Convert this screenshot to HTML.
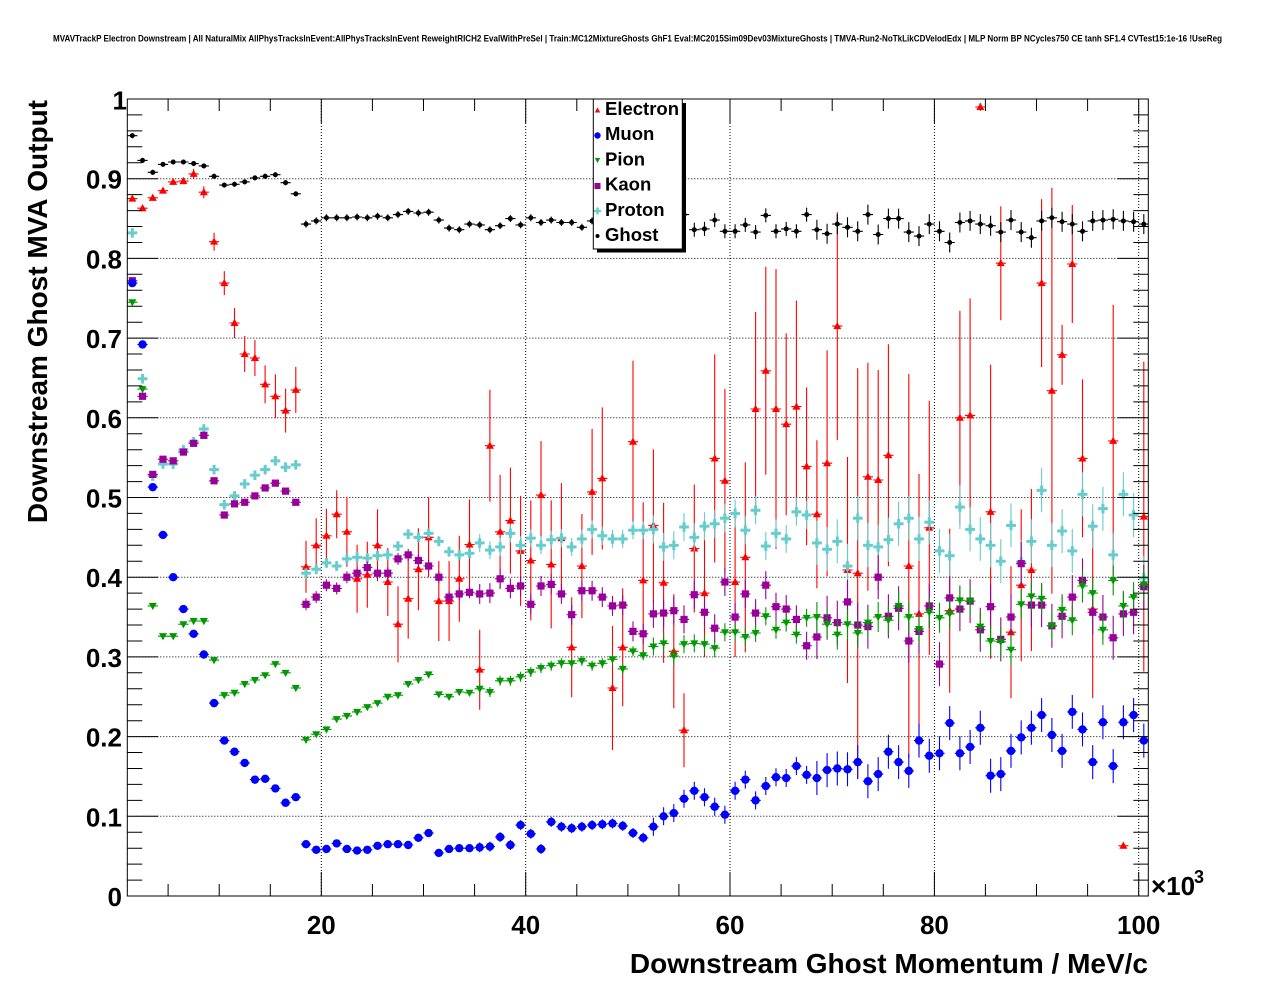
<!DOCTYPE html>
<html><head><meta charset="utf-8"><style>
html,body{margin:0;padding:0;background:#fff;}
svg{display:block;}
text{font-family:"Liberation Sans",Arial,sans-serif;font-weight:bold;fill:#000;}
</style></head><body>
<svg id="s" width="1276" height="996" viewBox="0 0 1276 996" xmlns="http://www.w3.org/2000/svg">
<defs><clipPath id="fr"><rect x="127.3" y="99" width="1021" height="797"/></clipPath></defs>
<rect width="1276" height="996" fill="#fff"/>
<text x="53" y="41.3" font-size="9.2" textLength="1169" lengthAdjust="spacingAndGlyphs">MVAVTrackP Electron Downstream | All NaturalMix AllPhysTracksInEvent:AllPhysTracksInEvent ReweightRICH2 EvalWithPreSel | Train:MC12MixtureGhosts GhF1 Eval:MC2015Sim09Dev03MixtureGhosts | TMVA-Run2-NoTkLikCDVelodEdx | MLP Norm BP NCycles750 CE tanh SF1.4 CVTest15:1e-16 !UseReg</text>
<g id="grid" stroke="#000" stroke-width="1" stroke-dasharray="1 2" fill="none"></g>
<g id="data" clip-path="url(#fr)"></g>
<rect x="127.3" y="99" width="1021" height="797" fill="none" stroke="#000" stroke-width="1"/>
<g id="ticks" stroke="#000" stroke-width="1" fill="none"></g>
<g font-size="26" text-anchor="end">
<text x="127" y="109.5">1</text>
<text x="122" y="188.7">0.9</text>
<text x="122" y="268.4">0.8</text>
<text x="122" y="348.1">0.7</text>
<text x="122" y="427.8">0.6</text>
<text x="122" y="507.5">0.5</text>
<text x="122" y="587.2">0.4</text>
<text x="122" y="666.9">0.3</text>
<text x="122" y="746.6">0.2</text>
<text x="122" y="826.3">0.1</text>
<text x="122" y="906">0</text>
</g>
<g font-size="26" text-anchor="middle">
<text x="321.3" y="934">20</text>
<text x="525.7" y="934">40</text>
<text x="730" y="934">60</text>
<text x="934.4" y="934">80</text>
<text x="1138.7" y="934">100</text>
</g>
<text x="1151" y="895" font-size="26">×10</text>
<text x="1194" y="883" font-size="18">3</text>
<text x="1148" y="973" font-size="28" text-anchor="end">Downstream Ghost Momentum / MeV/c</text>
<text transform="translate(47,100) rotate(-90)" x="0" y="0" font-size="28" text-anchor="end">Downstream Ghost MVA Output</text>
<g id="legend">
<rect x="597" y="103" width="89" height="149.5" fill="#000"/>
<rect x="593.3" y="99" width="89" height="150" fill="#fff" stroke="#000" stroke-width="1"/>
<g font-size="18.5">
<text x="605" y="115">Electron</text>
<text x="605" y="140.2">Muon</text>
<text x="605" y="165.4">Pion</text>
<text x="605" y="190.6">Kaon</text>
<text x="605" y="215.8">Proton</text>
<text x="605" y="241">Ghost</text>
</g>
<polygon points="597.5,107.5 594.8,112.5 600.2,112.5" fill="#ff0000"/>
<circle cx="597.5" cy="135.5" r="3.2" fill="#0000ff"/>
<polygon points="594.8,158 600.2,158 597.5,163" fill="#009900"/>
<rect x="594.5" y="183" width="6" height="6" fill="#990099"/>
<rect x="594" y="209.8" width="7" height="2.4" fill="#66cccc"/><rect x="596.3" y="207.5" width="2.4" height="7" fill="#66cccc"/>
<circle cx="597.5" cy="236" r="2" fill="#000"/>
</g>
<script>
(function(){
const NS="http://www.w3.org/2000/svg";
const X0=117, XS=10.217, Y0=896, YS=797;
const L=127.3, R=1148.3, T=99, B=896;
const xp=v=>X0+XS*v, yp=v=>Y0-YS*v;
function el(tag,a,p){const e=document.createElementNS(NS,tag);for(const k in a)e.setAttribute(k,a[k]);p.appendChild(e);return e;}
const g=document.getElementById('grid');
let d='';
[20,40,60,80,100].forEach(v=>{const x=xp(v).toFixed(1);d+=`M${x} ${T}V${B}`;});
for(let k=1;k<=9;k++){const y=yp(k/10).toFixed(1);d+=`M${L} ${y}H${R}`;}
el('path',{d:d},g);
const tk=document.getElementById('ticks');
d='';
for(let v=5;v<=100;v+=5){const x=xp(v).toFixed(1);const len=(v%20===0)?24:12;d+=`M${x} ${B}v${-len}M${x} ${T}v${len}`;}
for(let k=1;k<50;k++){const v=k*0.02;const y=yp(v).toFixed(1);const maj=(k%5===0);const ll=maj?31:15;d+=`M${L} ${y}h${ll}M${R} ${y}h${-ll}`;}
el('path',{d:d},tk);
const E=[.875,.863,.876,.885,.896,.897,.906,.883,.821,.769,.719,.680,.675,.642,.627,.609,.635,
.413,.440,.452,.479,.457,.398,.403,.440,.394,.341,.373,.41,.450,.370,.370,.398,.441,
.284,.565,.457,.471,.433,.421,.503,.416,.449,.312,.414,.507,.524,.261,.312,.570,.396,.465,.393,.307,.208,.436,.380,.549,.521,.394,.425,.611,.659,.611,.592,.614,.539,
.479,.543,.715,.409,.405,.526,.522,.553,null,.414,.354,.462,null,.358,.600,.603,.990,.482,.794,.331,.390,.409,.769,.634,.679,.793,.549,.360,null,.571,.063,null,.476];
const EE=[2,2,2,3,3,3,5,6,9,12,15,18,18,19,22,22,23,
26,27,27,24,35,34,33,36,34,38,40,41,40,40,40,43,45,
40,56,57,53,55,60,54,64,55,50,52,63,71,62,59,81,78,76,80,57,37,64,64,104,92,75,95,97,104,140,91,106,79,
74,113,114,113,205,114,110,111,0,192,140,127,0,82,107,117,4,147,57,66,76,81,84,203,30,59,79,89,0,136,3,0,155];
const M=[.769,.692,.513,.453,.400,.360,.329,.303,.242,.195,.181,.167,.146,.147,.135,.117,.124,
.065,.058,.059,.066,.059,.057,.058,.063,.065,.065,.064,.073,.079,.054,.059,.060,.060,
.061,.062,.074,.064,.089,.078,.059,.093,.087,.085,.087,.089,.090,.091,.088,.079,.073,.087,.100,.104,.122,.132,.124,.112,.102,.132,.146,.120,.138,.149,.148,.163,.152,
.148,.158,.160,.159,.168,.144,.153,.181,.168,.157,.195,.176,.179,.217,.179,.187,.211,.151,.153,.182,.199,.211,.227,.202,.182,.231,.209,.168,.218,.163,.218,.227,.195];
const P=[.745,.636,.364,.326,.326,.341,.345,.345,.296,.252,.255,.266,.271,.277,.291,.280,.261,
.196,.203,.209,.222,.226,.231,.237,.242,.250,.252,.266,.271,.278,.253,.250,.256,.255,
.260,.256,.270,.270,.275,.281,.286,.289,.292,.292,.295,.289,.292,.297,.285,.307,.302,.313,.317,.301,.316,.317,.316,.311,.331,.331,.325,.330,.351,.334,.343,.328,.349,
.350,.341,.328,.341,.330,.343,.350,.346,.364,.350,.335,.356,.349,.354,.371,.370,.338,.320,.319,.309,.366,.376,.373,.339,.359,.346,.389,.380,.334,.396,.364,.375,.391];
const K=[.772,.627,.529,.548,.546,.557,.568,.578,.521,.478,.492,.494,.502,.512,.518,.508,.494,
.366,.375,.390,.386,.400,.405,.412,.405,.405,.423,.428,.421,.414,.400,.375,.379,.381,
.379,.380,.398,.386,.389,.366,.389,.391,.379,.353,.383,.383,.375,.364,.365,.332,.329,.354,.355,.358,.347,.378,.356,.336,.394,.350,.379,.355,.390,.363,.360,.347,.314,
.325,.349,.343,.369,.340,.338,.400,.351,.361,.320,.332,.364,.291,.374,.360,.370,.334,.363,.322,.350,.417,.365,.365,.339,.351,.375,.396,.356,.350,.324,.354,.356,.388];
const PR=[.832,.649,.527,.542,.542,.560,.570,.586,.535,.491,.502,.517,.528,.535,.546,.538,.541,
.405,.410,.418,.414,.423,.425,.424,.427,.428,.439,.454,.450,.455,.445,.432,.428,.430,
.443,.434,.438,.455,.440,.449,.440,.447,.449,.438,.448,.460,.452,.448,.448,.459,.459,.460,.438,.440,.463,.450,.464,.467,.474,.480,.459,.484,.439,.455,.448,.482,.478,
.443,.435,.445,.414,.474,.440,.438,.447,.467,.474,.448,.469,.433,.427,.488,.460,.448,.440,.420,.465,.419,.445,.509,.440,.458,.433,.504,.464,.486,.428,.504,.478,.399];
const G=[.954,.923,.908,.918,.921,.921,.919,.916,.903,.892,.893,.896,.901,.903,.905,.895,.881,
.843,.847,.851,.851,.851,.852,.851,.853,.851,.855,.859,.857,.858,.848,.838,.836,.843,
.842,.836,.841,.850,.842,.851,.845,.848,.845,.845,.839,.847,.845,.845,.845,.845,.845,.845,.845,.845,.855,.836,.837,.848,.834,.834,.842,.833,.854,.834,.837,.834,.855,
.836,.831,.843,.839,.834,.855,.830,.850,.850,.833,.828,.843,.834,.820,.845,.847,.843,.841,.833,.848,.833,.826,.847,.851,.846,.843,.834,.847,.848,.849,.847,.846,.843];
const seg=(a,b,c,dd,e)=>i=>i<17?a:i<34?b:i<51?c:i<67?dd:e;
const gErr=i=>i<17?2.5:i<46?3.5:i<67?7:10;
const mErr=seg(2,3,5,9,17), pErr=seg(2,2,5,9,15), kErr=seg(3,6,10,14,22), prErr=seg(3,5,9,14,22);
const dg=document.getElementById('data');
function series(vals,errf,color,marker){
  const grp=el('g',{},dg);
  let p='';
  for(let i=0;i<100;i++){const v=vals[i];if(v==null)continue;
    const x=xp(i+1.5),y=yp(v),e=errf(i);
    p+=`M${(x-5.1).toFixed(1)} ${y.toFixed(1)}H${(x+5.1).toFixed(1)}`;
    if(e>0)p+=`M${x.toFixed(1)} ${(y-e).toFixed(1)}V${(y+e).toFixed(1)}`;
  }
  el('path',{d:p,stroke:color,'stroke-width':1.1,fill:'none'},grp);
  for(let i=0;i<100;i++){const v=vals[i];if(v==null)continue;marker(grp,xp(i+1.5),yp(v),color);}
}
const triU=(gp,x,y,c)=>el('polygon',{points:`${x},${y-4.2} ${x-4},${y+3} ${x+4},${y+3}`,fill:c},gp);
const triD=(gp,x,y,c)=>el('polygon',{points:`${x-4},${y-3} ${x+4},${y-3} ${x},${y+4.2}`,fill:c},gp);
const circ=(gp,x,y,c)=>el('circle',{cx:x,cy:y,r:4.2,fill:c},gp);
const sq=(gp,x,y,c)=>el('rect',{x:x-3.6,y:y-3.6,width:7.2,height:7.2,fill:c},gp);
const cross=(gp,x,y,c)=>{el('rect',{x:x-4.8,y:y-1.5,width:9.6,height:3,fill:c},gp);el('rect',{x:x-1.5,y:y-4.8,width:3,height:9.6,fill:c},gp);};
const dot=(gp,x,y,c)=>el('circle',{cx:x,cy:y,r:2.5,fill:c},gp);
series(E,i=>EE[i],'#ff0000',triU);
series(PR,prErr,'#66cccc',cross);
series(K,kErr,'#990099',sq);
series(P,pErr,'#009900',triD);
series(M,mErr,'#0000ff',circ);
series(G,gErr,'#000000',dot);
const s=document.getElementById('s');
s.appendChild(document.getElementById('legend'));
})();
</script>
</svg>
</body></html>
